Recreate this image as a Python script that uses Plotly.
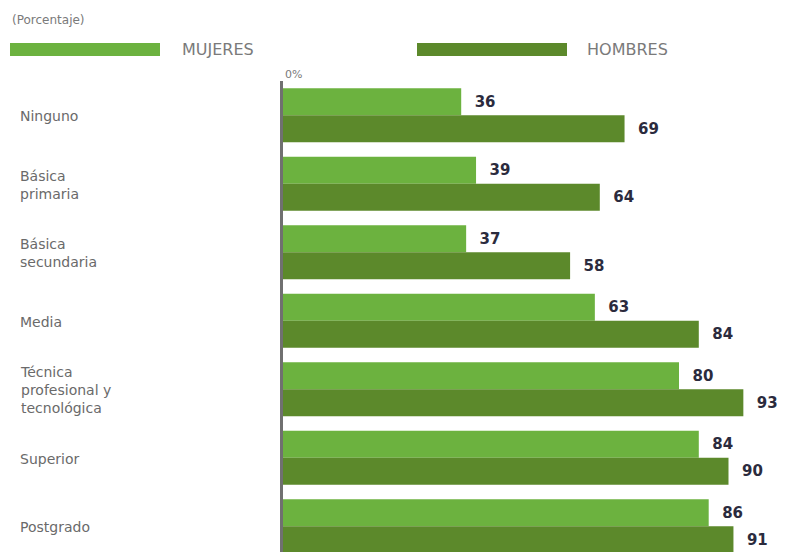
import plotly.graph_objects as go

categories = ["Ninguno", "Básica<br>primaria", "Básica<br>secundaria", "Media",
              "Técnica<br>profesional y<br>tecnológica", "Superior", "Postgrado"]
mujeres = [36, 39, 37, 63, 80, 84, 86]
hombres = [69, 64, 58, 84, 93, 90, 91]
series_names = ["MUJERES", "HOMBRES"]
subtitle = "(Porcentaje)"
zero_label = "0%"

C_MUJ = "#6cb23f"
C_HOM = "#5c892b"
LABEL_C = "#2b2b3d"
GRAY = "#7a7a7a"

W, H = 794, 552
ML, MR, MT, MB = 283, 16, 81, 0
PW, PH = W - ML - MR, H - MT - MB

def px(x):
    return (x - ML) / PW

def py(y):
    return (H - MB - y) / PH

idx = list(range(len(categories)))

fig = go.Figure()
for name, vals, col in [(series_names[0], mujeres, C_MUJ), (series_names[1], hombres, C_HOM)]:
    fig.add_trace(go.Bar(
        y=idx, x=vals, orientation="h", name=name,
        marker=dict(color=col, line=dict(width=0)),
        text=[f"{v}" for v in vals], textposition="outside",
        texttemplate="  %{text}",
        textfont=dict(family="DejaVu Sans", size=15, color=LABEL_C, weight="bold"),
        cliponaxis=False, showlegend=False, hoverinfo="skip",
    ))

annotations = []
for i, c in enumerate(categories):
    annotations.append(dict(
        x=0, xref="paper", xanchor="left", xshift=18 - ML,
        y=i, yref="y", yanchor="middle", yshift=-1, text=c, showarrow=False, align="left",
        font=dict(family="DejaVu Sans", size=14, color="#6a6a6a"),
    ))

annotations += [
    dict(x=px(10), y=py(20), xref="paper", yref="paper", xanchor="left", yanchor="middle",
         text=subtitle, showarrow=False, font=dict(family="DejaVu Sans", size=12, color=GRAY)),
    dict(x=px(180), y=py(49), xref="paper", yref="paper", xanchor="left", yanchor="middle",
         text=series_names[0], showarrow=False, font=dict(family="DejaVu Sans", size=16, color=GRAY)),
    dict(x=px(585), y=py(49), xref="paper", yref="paper", xanchor="left", yanchor="middle",
         text=series_names[1], showarrow=False, font=dict(family="DejaVu Sans", size=16, color=GRAY)),
    dict(x=0, xref="x", y=py(74), yref="paper", xanchor="left", yanchor="middle",
         text=zero_label, showarrow=False, font=dict(family="DejaVu Sans", size=11, color=GRAY)),
]

shapes = [
    dict(type="rect", xref="paper", yref="paper", x0=px(10), x1=px(160), y0=py(56), y1=py(43),
         fillcolor=C_MUJ, line=dict(width=0)),
    dict(type="rect", xref="paper", yref="paper", x0=px(417), x1=px(567), y0=py(56), y1=py(43),
         fillcolor=C_HOM, line=dict(width=0)),
]

fig.update_layout(
    width=W, height=H,
    margin=dict(l=ML, r=MR, t=MT, b=MB, pad=0),
    paper_bgcolor="white", plot_bgcolor="white",
    barmode="group", bargap=0.21, bargroupgap=0,
    annotations=annotations, shapes=shapes,
    font=dict(family="DejaVu Sans"),
)
fig.update_xaxes(range=[0, 100], showticklabels=False, showgrid=False, zeroline=False, showline=False)
fig.update_yaxes(range=[6.376, -0.5], showticklabels=False, showgrid=False, zeroline=False,
                 showline=True, linecolor="#707070", linewidth=3, ticks="")

fig.write_html("out.html", config={"displayModeBar": False},
               post_script="document.body.style.margin='0';document.body.style.overflow='hidden';")
